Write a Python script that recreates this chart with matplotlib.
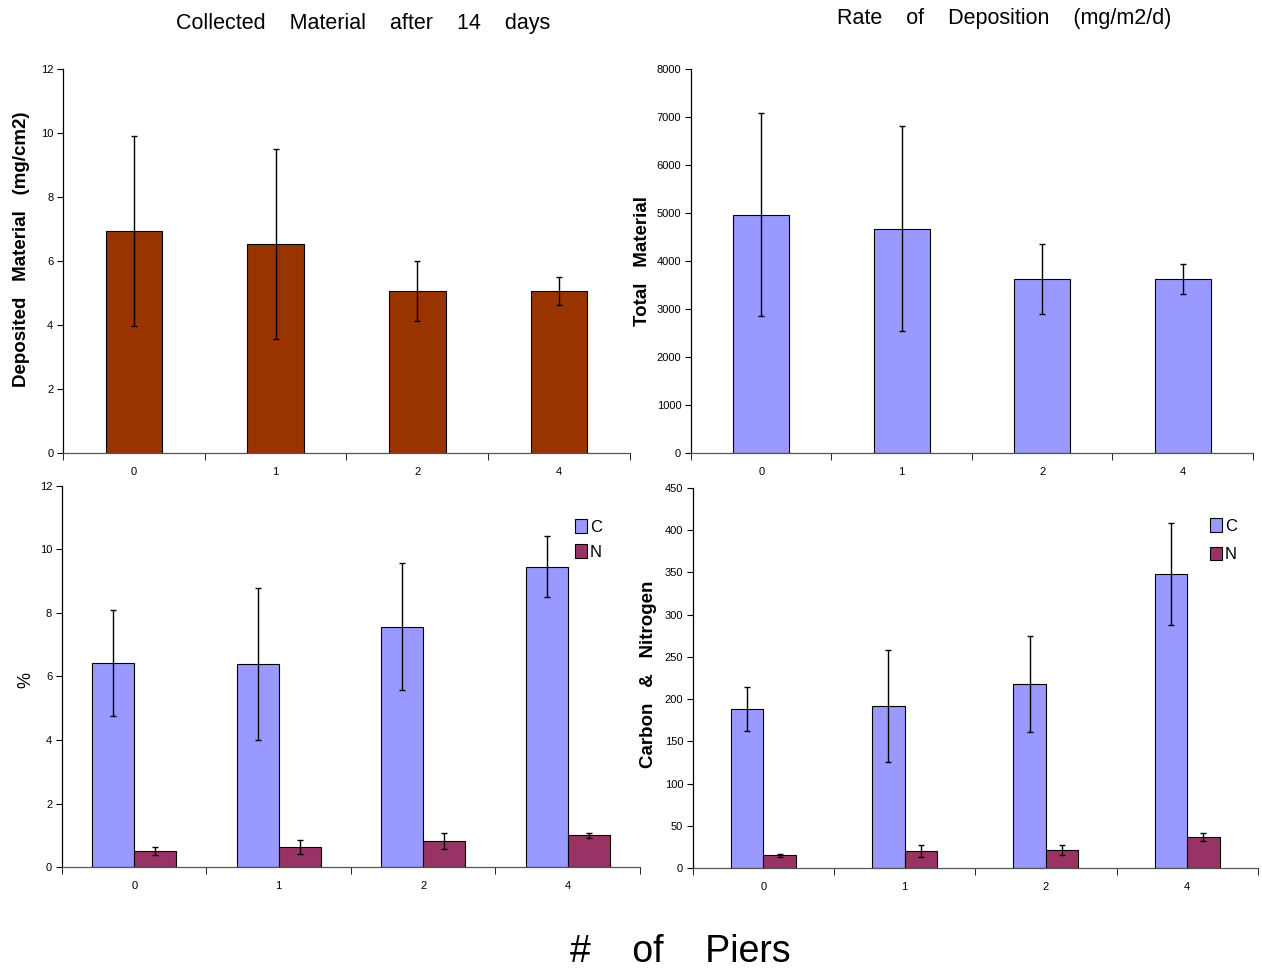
import matplotlib.pyplot as plt
import numpy as np

plt.rcParams['font.family'] = ['Liberation Sans', 'DejaVu Sans']

# categorias (# de pilares)
piers = ['0', '1', '2', '4']

# material coletado apos 14 dias (mg/cm2)
deposited = [6.94, 6.53, 5.06, 5.06]
deposited_err = [2.97, 2.98, 0.94, 0.44]

# taxa de deposicao (mg/m2/d)
total_rate = [4958, 4667, 3625, 3625]
total_rate_err = [2115, 2135, 720, 305]

# % de C e N
pct_c = [6.43, 6.39, 7.56, 9.45]
pct_c_err = [1.66, 2.40, 2.00, 0.96]
pct_n = [0.50, 0.63, 0.82, 1.00]
pct_n_err = [0.13, 0.22, 0.24, 0.08]

# taxa de C e N
rate_c = [188, 192, 218, 348]
rate_c_err = [26, 66, 57, 60]
rate_n = [15, 20, 21, 37]
rate_n_err = [1.5, 7, 6, 5]

brown = '#993300'
lilac = '#9999FF'
plum = '#993366'

fig = plt.figure(figsize=(12.62, 9.71), dpi=100)

ax1 = fig.add_axes([0.0499, 0.5335, 0.4493, 0.3955])
ax2 = fig.add_axes([0.5475, 0.5335, 0.4453, 0.3955])
ax3 = fig.add_axes([0.0491, 0.1071, 0.4580, 0.3924])
ax4 = fig.add_axes([0.5490, 0.1061, 0.4477, 0.3913])

x = np.arange(len(piers))
err_kw = dict(ecolor='black', elinewidth=1, capsize=2.5, capthick=1)
leg_kw = dict(loc='upper left', frameon=False, fontsize=12, borderpad=0, borderaxespad=0,
              handlelength=0.75, handleheight=0.9, handletextpad=0.15, labelspacing=0.55)


def estilo(ax, ymax, ystep):
    ax.set_xlim(-0.5, len(piers) - 0.5)
    ax.set_ylim(0, ymax)
    ax.set_yticks(np.arange(0, ymax + ystep / 2, ystep))
    ax.set_xticks(x)
    ax.set_xticklabels(piers)
    ax.set_xticks(np.arange(-0.5, len(piers)), minor=True)
    ax.tick_params(axis='x', which='major', length=0, pad=10, labelsize=8)
    ax.tick_params(axis='x', which='minor', length=5, direction='out')
    ax.tick_params(axis='y', length=4, direction='out', labelsize=8, pad=3)
    for s in ['top', 'right']:
        ax.spines[s].set_visible(False)
    ax.spines['left'].set_linewidth(0.9)
    ax.spines['bottom'].set_linewidth(0.9)
    ax.spines['bottom'].set_color('#555555')


# painel 1
ax1.bar(x, deposited, width=0.4, color=brown, edgecolor='black', linewidth=0.8,
        yerr=deposited_err, error_kw=err_kw)
estilo(ax1, 12, 2)
ax1.set_ylabel('Deposited   Material   (mg/cm2)', fontsize=13.5, fontweight='bold')
ax1.yaxis.set_label_coords(-0.058, 0.53)
fig.text(0.288, 0.976, 'Collected    Material    after    14    days', ha='center', va='center', fontsize=15.5)

# painel 2
ax2.bar(x, total_rate, width=0.4, color=lilac, edgecolor='black', linewidth=0.8,
        yerr=total_rate_err, error_kw=err_kw)
estilo(ax2, 8000, 1000)
ax2.set_ylabel('Total   Material', fontsize=13.5, fontweight='bold', labelpad=4)
fig.text(0.796, 0.981, 'Rate    of    Deposition    (mg/m2/d)', ha='center', va='center', fontsize=15.5)

# painel 3
w3 = 0.29
ax3.bar(x - w3 / 2, pct_c, width=w3, color=lilac, edgecolor='black', linewidth=0.8,
        yerr=pct_c_err, error_kw=err_kw, label='C')
ax3.bar(x + w3 / 2, pct_n, width=w3, color=plum, edgecolor='black', linewidth=0.8,
        yerr=pct_n_err, error_kw=err_kw, label='N')
estilo(ax3, 12, 2)
ax3.set_ylabel('%', fontsize=13)
ax3.yaxis.set_label_coords(-0.047, 0.49)
ax3.legend(bbox_to_anchor=(0.887, 0.913), **leg_kw)

# painel 4
w4 = 0.23
ax4.bar(x - w4 / 2, rate_c, width=w4, color=lilac, edgecolor='black', linewidth=0.8,
        yerr=rate_c_err, error_kw=err_kw, label='C')
ax4.bar(x + w4 / 2, rate_n, width=w4, color=plum, edgecolor='black', linewidth=0.8,
        yerr=rate_n_err, error_kw=err_kw, label='N')
estilo(ax4, 450, 50)
ax4.set_ylabel('Carbon   &   Nitrogen', fontsize=13.5, fontweight='bold')
ax4.yaxis.set_label_coords(-0.063, 0.51)
leg4 = dict(leg_kw, labelspacing=0.75)
ax4.legend(bbox_to_anchor=(0.915, 0.92), **leg4)

fig.text(0.539, 0.02, '#    of    Piers', ha='center', va='center', fontsize=27)

fig.savefig('out.png', dpi=100)
